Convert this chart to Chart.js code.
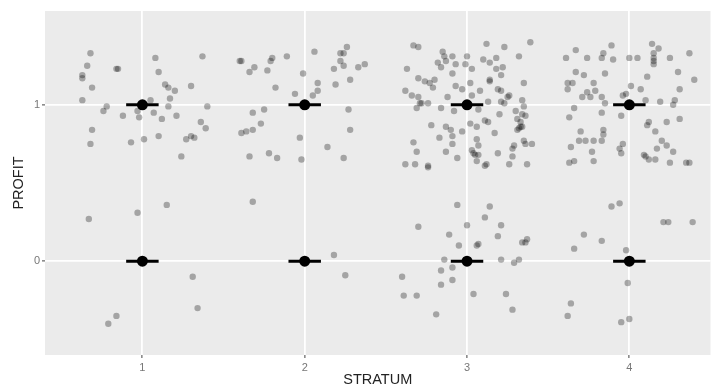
<!DOCTYPE html>
<html>
<head>
<meta charset="utf-8">
<script src="https://cdn.jsdelivr.net/npm/chart.js@4.4.1/dist/chart.umd.min.js"></script>
<style>
  body { margin: 0; background: #fff; }
  #wrap { width: 716px; height: 389px; position: relative; }
</style>
</head>
<body>
<div id="wrap"><canvas id="myChart"></canvas></div>
<script>
// tick positions
const strata = [1, 2, 3, 4]
const profitTicks = [0, 1]

const stratum1 = [
    [0.68, 1.33], [1.08, 1.30], [1.37, 1.31], [0.66, 1.25], [0.84, 1.23], [0.85, 1.23], [1.10, 1.21],
    [0.63, 1.19], [0.63, 1.17], [0.69, 1.11], [1.14, 1.13], [1.16, 1.11], [1.20, 1.09], [1.30, 1.12],
    [0.63, 1.03], [0.78, 0.99], [1.05, 1.03], [1.17, 1.04], [1.16, 0.99], [1.40, 0.99], [0.76, 0.96],
    [0.88, 0.93], [0.97, 0.96], [0.98, 0.92], [1.07, 0.95], [1.12, 0.91], [1.21, 0.93], [1.36, 0.89],
    [1.39, 0.85], [0.69, 0.84], [0.68, 0.75], [0.93, 0.76], [1.01, 0.78], [1.10, 0.80], [1.27, 0.78],
    [1.30, 0.80], [1.32, 0.79], [1.24, 0.67],
    [0.67, 0.27], [0.97, 0.31], [1.15, 0.36], [1.31, -0.10], [1.34, -0.30], [0.84, -0.35], [0.79, -0.40]
]

const stratum2 = [
    [2.26, 1.37], [2.06, 1.34], [2.22, 1.33], [2.24, 1.33], [1.89, 1.31], [1.80, 1.30], [1.79, 1.28],
    [1.60, 1.28], [1.61, 1.28], [2.22, 1.28], [2.24, 1.25], [2.37, 1.26], [2.33, 1.24], [1.69, 1.24],
    [1.66, 1.21], [1.77, 1.22], [2.18, 1.23], [1.99, 1.20], [2.28, 1.16], [2.19, 1.13], [2.08, 1.14],
    [2.08, 1.09], [1.82, 1.11], [1.94, 1.07], [2.05, 1.06], [1.75, 0.97], [1.68, 0.95], [2.27, 0.97],
    [1.73, 0.88], [1.61, 0.82], [1.64, 0.83], [1.68, 0.84], [2.28, 0.84], [1.97, 0.79], [2.14, 0.73],
    [1.78, 0.69], [1.66, 0.67], [1.83, 0.66], [1.98, 0.65], [2.24, 0.66],
    [1.68, 0.38], [2.18, 0.04], [2.25, -0.09]
]

const stratum3 = [
    [2.67, 1.38], [2.70, 1.37], [3.12, 1.39], [3.23, 1.37], [3.39, 1.40], [2.85, 1.34], [2.86, 1.31],
    [2.91, 1.31], [3.00, 1.31], [3.32, 1.31], [3.10, 1.29], [3.14, 1.27], [3.18, 1.30], [2.82, 1.27],
    [2.87, 1.28], [2.93, 1.26], [2.99, 1.26], [2.63, 1.23], [2.84, 1.24], [3.03, 1.23], [3.18, 1.23],
    [3.22, 1.24], [2.91, 1.20], [3.21, 1.19], [2.70, 1.17], [2.74, 1.15], [2.77, 1.14], [2.80, 1.16],
    [2.79, 1.11], [2.93, 1.12], [2.97, 1.10], [3.02, 1.14], [3.14, 1.16], [3.14, 1.15], [3.35, 1.14],
    [2.62, 1.09], [2.66, 1.06], [2.70, 1.05], [3.19, 1.10], [3.21, 1.09], [3.26, 1.06], [3.25, 1.05],
    [2.88, 1.05], [3.03, 1.06], [3.08, 1.09], [3.13, 1.02], [3.21, 1.02], [3.23, 1.01], [3.34, 1.03],
    [2.71, 1.01], [2.72, 1.01], [2.76, 1.01], [2.69, 0.98], [2.84, 0.98], [2.92, 0.96], [3.07, 0.97],
    [3.35, 0.99], [3.30, 0.96], [3.20, 0.94], [3.34, 0.94], [3.36, 0.93], [3.31, 0.91], [3.33, 0.89],
    [3.11, 0.90], [3.13, 0.89], [3.02, 0.88], [3.06, 0.86], [2.78, 0.87], [2.87, 0.86], [2.90, 0.84],
    [2.91, 0.80], [2.97, 0.83], [3.17, 0.82], [3.32, 0.85], [3.33, 0.86], [3.34, 0.86], [3.31, 0.84],
    [2.83, 0.79], [3.06, 0.78], [3.07, 0.74], [2.91, 0.75], [2.67, 0.76], [3.35, 0.77], [3.36, 0.75],
    [3.40, 0.75], [3.29, 0.74], [3.28, 0.72], [2.69, 0.70], [2.87, 0.70], [3.03, 0.71], [3.04, 0.69],
    [3.05, 0.68], [3.07, 0.68], [3.19, 0.69], [3.28, 0.67], [2.94, 0.66], [2.62, 0.62], [2.68, 0.62],
    [2.76, 0.61], [2.76, 0.60], [3.06, 0.64], [3.11, 0.61], [3.12, 0.62], [3.26, 0.62], [3.37, 0.62],
    [2.94, 0.36], [3.14, 0.35], [3.11, 0.28], [2.70, 0.22], [3.00, 0.23], [3.21, 0.23], [2.89, 0.17],
    [3.19, 0.16], [2.95, 0.10], [3.07, 0.11], [3.06, 0.10], [3.34, 0.12], [3.36, 0.12], [3.37, 0.14],
    [2.86, 0.01], [3.21, 0.01], [3.29, -0.01], [3.32, 0.01], [2.84, -0.06], [2.91, -0.04], [2.60, -0.10],
    [2.91, -0.12], [2.84, -0.15], [2.61, -0.22], [2.69, -0.22], [3.04, -0.21], [3.24, -0.21], [3.28, -0.31],
    [2.81, -0.34]
]

const stratum4 = [
    [3.67, 1.35], [3.89, 1.38], [4.14, 1.39], [4.18, 1.36], [4.37, 1.33], [3.61, 1.30], [3.74, 1.30],
    [3.84, 1.33], [3.83, 1.30], [3.90, 1.29], [4.00, 1.30], [4.05, 1.30], [4.15, 1.33], [4.15, 1.30],
    [4.15, 1.28], [4.15, 1.26], [4.25, 1.30], [3.67, 1.21], [3.72, 1.19], [3.85, 1.20], [4.11, 1.18],
    [4.30, 1.21], [4.40, 1.16], [3.62, 1.14], [3.65, 1.14], [3.62, 1.10], [3.78, 1.14], [3.79, 1.09],
    [3.74, 1.08], [3.71, 1.05], [3.76, 1.05], [3.83, 1.05], [4.01, 1.12], [4.07, 1.10], [3.96, 1.06],
    [3.98, 1.07], [4.31, 1.10], [3.85, 1.01], [4.10, 1.03], [4.19, 1.02], [4.28, 1.03], [4.27, 1.00],
    [3.66, 0.98], [3.83, 0.95], [3.95, 0.93], [3.63, 0.92], [4.12, 0.89], [4.11, 0.87], [4.23, 0.89],
    [4.31, 0.91], [3.84, 0.84], [3.70, 0.83], [3.84, 0.81], [4.16, 0.83], [3.69, 0.77], [3.73, 0.77],
    [3.78, 0.77], [3.83, 0.77], [4.20, 0.77], [4.23, 0.74], [4.17, 0.72], [3.64, 0.73], [3.96, 0.75],
    [3.94, 0.72], [3.95, 0.69], [3.77, 0.70], [4.27, 0.70], [4.09, 0.68], [4.10, 0.67], [4.12, 0.65],
    [4.16, 0.65], [3.63, 0.63], [3.66, 0.64], [3.78, 0.64], [4.25, 0.63], [4.35, 0.63], [4.37, 0.63],
    [3.89, 0.35], [3.94, 0.37], [4.21, 0.25], [4.24, 0.25], [4.39, 0.25], [3.72, 0.17], [3.83, 0.13],
    [3.66, 0.08], [3.98, 0.07], [3.99, -0.14], [3.64, -0.27], [3.62, -0.35], [3.95, -0.39], [4.00, -0.37]
]

// summary markers per stratum (black dot + short bar)
const summaryLevels = [0, 1]
const barHalfWidth = 0.1

const fontFamily = "'Liberation Sans', Arial, sans-serif"

const observations = [].concat(stratum1, stratum2, stratum3, stratum4).map(p => ({ x: p[0], y: p[1] }))

const summaryPoints = []
const datasets = []
strata.forEach(s => {
    summaryLevels.forEach(lvl => {
        summaryPoints.push({ x: s, y: lvl })
        datasets.push({
            type: 'line',
            data: [{ x: s - barHalfWidth, y: lvl }, { x: s + barHalfWidth, y: lvl }],
            borderColor: '#000',
            borderWidth: 3,
            borderCapStyle: 'butt',
            pointRadius: 0,
            order: 2
        })
    })
})

datasets.push({
    type: 'scatter',
    data: summaryPoints,
    backgroundColor: '#000',
    borderWidth: 0,
    pointRadius: 5.5,
    order: 1
})

datasets.push({
    type: 'scatter',
    data: observations,
    backgroundColor: 'rgba(0,0,0,0.3)',
    borderWidth: 0,
    pointRadius: 3.2,
    order: 3
})

const panelBg = {
    id: 'panelBg',
    beforeDraw(chart) {
        const { ctx, chartArea: a } = chart
        ctx.save()
        ctx.fillStyle = '#EBEBEB'
        ctx.fillRect(a.left, a.top, a.right - a.left, a.bottom - a.top)
        ctx.restore()
    }
}

const ctx = document.getElementById('myChart')

new Chart(ctx, {
    type: 'scatter',
    data: { datasets: datasets },
    plugins: [panelBg],
    options: {
        maintainAspectRatio: false,
        responsive: true,
        animation: false,
        events: [],
        layout: { padding: { top: 11, right: 4, left: 0, bottom: 0 } },
        plugins: {
            legend: { display: false },
            tooltip: { enabled: false }
        },
        scales: {
            x: {
                type: 'linear',
                min: 0.4,
                max: 4.5,
                afterBuildTicks: scale => { scale.ticks = strata.map(v => ({ value: v })) },
                afterFit: scale => { scale.height = 34 },
                border: { display: false },
                grid: { color: '#FFFFFF', lineWidth: 1.8, tickLength: 3, tickColor: '#444', tickWidth: 1 },
                ticks: {
                    color: '#777',
                    padding: 3,
                    font: { family: fontFamily, size: 11 },
                    callback: v => String(v)
                },
                title: {
                    display: true,
                    text: 'STRATUM',
                    color: '#222',
                    padding: { top: 0, bottom: 0 },
                    font: { family: fontFamily, size: 14.5 }
                }
            },
            y: {
                type: 'linear',
                min: -0.6,
                max: 1.6,
                afterBuildTicks: scale => { scale.ticks = profitTicks.map(v => ({ value: v })) },
                afterFit: scale => { scale.width = 45 },
                border: { display: false },
                grid: { color: '#FFFFFF', lineWidth: 1.8, tickLength: 3, tickColor: '#444', tickWidth: 1 },
                ticks: {
                    color: '#777',
                    padding: 2,
                    font: { family: fontFamily, size: 11 },
                    callback: v => String(v)
                },
                title: {
                    display: true,
                    text: 'PROFIT',
                    color: '#222',
                    padding: { top: 10, bottom: 0 },
                    font: { family: fontFamily, size: 14.5 }
                }
            }
        }
    }
})
</script>
</body>
</html>
